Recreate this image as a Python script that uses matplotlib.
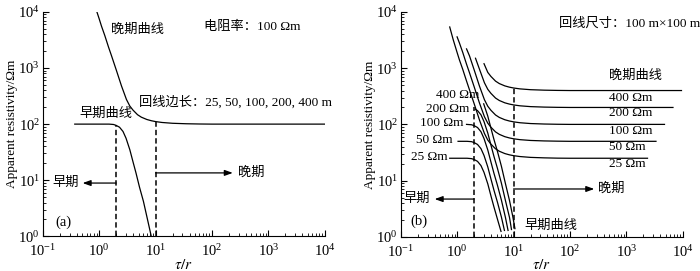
import matplotlib
matplotlib.use('Agg')
import matplotlib.pyplot as plt

plt.rcParams['font.family'] = ['Liberation Serif', 'Noto Sans CJK SC']
plt.rcParams['mathtext.fontset'] = 'stix'
plt.rcParams['font.size'] = 9.5

# ── panel (a): 100 Ωm, late and early curves
a_late_x = [0.92, 1.0, 1.1, 1.26, 1.47, 1.66, 2.03, 2.49, 3.05, 3.5, 3.98, 4.8, 5.6,
            7.0, 8.4, 10, 13, 20, 35, 60, 100, 1e4]
a_late_y = [9800, 7600, 5600, 3800, 2350, 1650, 900, 480, 275, 210, 178, 147, 133,
            121, 115, 111, 107, 103.5, 101.5, 100.5, 100, 100]
a_early_x = [0.37, 1.5, 1.8, 2.0, 2.3, 2.65, 3.0, 3.5, 4.0, 4.5, 5.2, 6.1, 7.2, 8.4]
a_early_y = [100, 100, 98.5, 95, 88, 74, 56, 35, 21, 13.5, 7.5, 4.2, 2.0, 1.0]

# ── panel (b): 100 m x 100 m loop, five resistivities
rho_labels = ['25 Ωm', '50 Ωm', '100 Ωm', '200 Ωm', '400 Ωm']

b_late_x = [
    [0.74, 0.85, 0.92, 1.0, 1.1, 1.26, 1.47, 1.66, 2.03, 2.49, 3.05, 3.5, 3.98, 4.8,
     5.6, 7.0, 8.4, 10, 13, 20, 35, 60, 100, 2370],
    [1.0, 1.1, 1.26, 1.47, 1.66, 2.03, 2.49, 3.05, 3.5, 3.98, 4.8, 5.6, 7.0, 8.4,
     10, 13, 20, 35, 60, 100, 3350],
    [1.47, 1.66, 2.03, 2.49, 3.05, 3.5, 3.98, 4.8, 5.6, 7.0, 8.4, 10, 13, 20, 35,
     60, 100, 4740],
    [2.12, 2.49, 3.05, 3.5, 3.98, 4.8, 5.6, 7.0, 8.4, 10, 13, 20, 35, 60, 100, 6700],
    [3.0, 3.5, 3.98, 4.8, 5.6, 7.0, 8.4, 10, 13, 20, 35, 60, 100, 9480],
]
b_late_y = [
    [5400, 3250, 2500, 1900, 1400, 950, 590, 410, 225, 120, 69, 52.5, 44.5, 36.8,
     33.3, 30.3, 28.8, 27.8, 26.8, 25.9, 25.4, 25.1, 25, 25],
    [3600, 2800, 1900, 1175, 825, 450, 240, 137, 105, 89, 73.5, 66.5, 60.5, 57.5,
     55.5, 53.5, 51.8, 50.8, 50.3, 50, 50],
    [2200, 1650, 900, 480, 275, 210, 178, 147, 133, 121, 115, 111, 107, 103.5, 101.5,
     100.5, 100, 100],
    [1500, 960, 550, 420, 356, 294, 266, 242, 230, 222, 214, 207, 203, 201, 200, 200],
    [1200, 840, 712, 588, 532, 484, 460, 444, 428, 414, 406, 402, 400, 400],
]
b_early_x = [
    [0.74, 1.5, 1.8, 2.0, 2.3, 2.65, 3.0, 3.5, 4.0, 4.5, 5.2, 6.0],
    [1.04, 1.5, 1.8, 2.0, 2.3, 2.65, 3.0, 3.5, 4.0, 4.5, 5.2, 6.1, 6.9],
    [1.47, 1.8, 2.0, 2.3, 2.65, 3.0, 3.5, 4.0, 4.5, 5.2, 6.1, 7.2, 8.0],
    [2.1, 2.3, 2.65, 3.0, 3.5, 4.0, 4.5, 5.2, 6.1, 7.2, 8.5, 9.2],
    [2.96, 3.5, 4.0, 4.5, 5.2, 6.1, 7.2, 8.5, 9.7, 10.6],
]
b_early_y = [
    [25, 25, 24.6, 23.8, 22, 18.5, 14, 8.75, 5.25, 3.4, 2.05, 1.25],
    [50, 50, 49.3, 47.5, 44, 37, 28, 17.5, 10.5, 6.75, 4.1, 2.25, 1.3],
    [100, 98.5, 95, 88, 74, 56, 35, 21, 13.5, 8.2, 4.5, 2.2, 1.3],
    [186, 176, 148, 112, 70, 42, 27, 16.4, 9, 4.4, 2.2, 1.35],
    [232, 140, 84, 54, 32.8, 18, 8.8, 4.4, 2.3, 1.4],
]
# label anchors (right end of left labels, left labels of flats)
b_left_lab_x = [0.69, 0.83, 1.31, 1.68, 2.52]
b_left_lab_y = [26, 52.5, 104, 191, 334]
b_right_lab_y = [20, 40, 76, 157, 300]

LW = 0.9
DASH = (0, (3.5, 2))


def style_axes(ax):
    ax.set_xscale('log')
    ax.set_yscale('log')
    ax.set_xlim(0.1, 1e4)
    ax.set_ylim(1, 1e4)
    ax.spines['top'].set_visible(False)
    ax.spines['right'].set_visible(False)
    ax.tick_params(which='both', direction='in', labelsize=10.5)
    ax.tick_params(which='major', length=4.5)
    ax.tick_params(which='minor', length=2.5)
    ax.tick_params(axis='y', pad=2)
    ax.tick_params(axis='x', pad=5)
    ax.set_xlabel(r'$\tau/r$', fontsize=11, labelpad=-1)
    ax.set_ylabel('Apparent resistivity/Ωm', labelpad=0)


def arrow(ax, x0, x1, y):
    ax.annotate('', xy=(x1, y), xytext=(x0, y),
                arrowprops=dict(arrowstyle='-|>,head_length=0.5,head_width=0.18',
                                color='black', lw=LW, shrinkA=0, shrinkB=0))


fig = plt.figure(figsize=(7.0, 2.71), dpi=100)
ax1 = fig.add_axes([0.061, 0.128, 0.403, 0.828])
ax2 = fig.add_axes([0.5724, 0.126, 0.403, 0.830])

# ── Panel (a)
style_axes(ax1)
ax1.plot(a_late_x, a_late_y, color='black', lw=LW)
ax1.plot(a_early_x, a_early_y, color='black', lw=LW)
ax1.plot([2, 2], [1, 95], color='black', lw=1.1, ls=DASH)
ax1.plot([10, 10], [1, 111], color='black', lw=1.1, ls=DASH)
arrow(ax1, 2, 0.51, 8.9)
arrow(ax1, 10, 234, 13.5)
ax1.text(0.43, 8.9, '早期', ha='right', va='center')
ax1.text(290, 13.5, '晚期', ha='left', va='center')
ax1.text(1.65, 4850, '晚期曲线', ha='left', va='center')
ax1.text(71, 5400, '电阻率：100 Ωm', ha='left', va='center')
ax1.text(5.1, 248, '回线边长：25, 50, 100, 200, 400 m', ha='left', va='center')
ax1.text(0.44, 154, '早期曲线', ha='left', va='center')
ax1.text(0.166, 1.8, '(a)', ha='left', va='center', fontsize=10.5)

# ── Panel (b)
style_axes(ax2)
for i in range(len(rho_labels)):
    ax2.plot(b_late_x[i], b_late_y[i], color='black', lw=LW)
    ax2.plot(b_early_x[i], b_early_y[i], color='black', lw=LW)
    ax2.text(b_left_lab_x[i], b_left_lab_y[i], rho_labels[i], ha='right', va='center')
    ax2.text(485, b_right_lab_y[i], rho_labels[i], ha='left', va='center')
ax2.plot([2, 2], [1, 200], color='black', lw=1.1, ls=DASH)
ax2.plot([10, 10], [1, 444], color='black', lw=1.1, ls=DASH)
arrow(ax2, 2, 0.40, 4.7)
arrow(ax2, 10, 270, 7.1)
ax2.text(0.11, 4.7, '早期', ha='left', va='center')
ax2.text(310, 7.1, '晚期', ha='left', va='center')
ax2.text(485, 750, '晚期曲线', ha='left', va='center')
ax2.text(63, 6100, '回线尺寸：100 m×100 m', ha='left', va='center')
ax2.text(15.7, 1.57, '早期曲线', ha='left', va='center')
ax2.text(0.146, 1.9, '(b)', ha='left', va='center', fontsize=10.5)

fig.savefig('out.png', dpi=100)
